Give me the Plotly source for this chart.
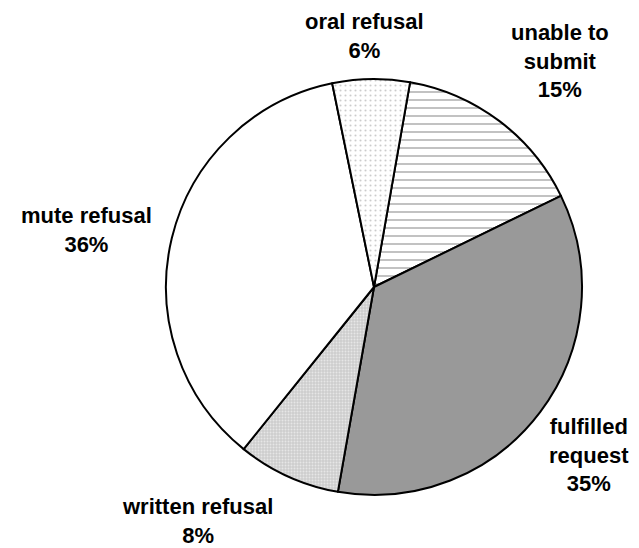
import plotly.graph_objects as go

labels = ["unable to submit", "fulfilled request", "written refusal", "mute refusal", "oral refusal"]
label_lines = ["unable to<br>submit", "fulfilled<br>request", "written refusal", "mute refusal", "oral refusal"]
values = [15, 35, 8, 36, 6]

colors = ["white", "#999999", "#cdcdcd", "white", "white"]
shapes = ["-", "", ".", "", "."]
fg = ["#404040", "#999999", "white", "white", "#999999"]
sizes = [8, 8, 3, 8, 5]
sol = [0.16, 0.1, 0.35, 0.1, 0.14]

W, H = 639, 548
OFF = 8  # page body margin offset

cx, cy, r = 374 - OFF, 287 - OFF, 208

fig = go.Figure(go.Pie(
    labels=labels, values=values, sort=False, direction="clockwise", rotation=10,
    marker=dict(colors=colors, line=dict(color="black", width=2),
                pattern=dict(shape=shapes, fgcolor=fg, bgcolor=colors, size=sizes,
                             solidity=sol, fillmode="overlay")),
    textinfo="none", showlegend=False, hoverinfo="none",
    domain=dict(x=[(cx - r) / W, (cx + r) / W], y=[(H - cy - r) / H, (H - cy + r) / H]),
))

# label block centres (pixels) placed beside each slice
label_px = [(560, 61), (589, 455), (197, 521), (86, 230), (364, 36)]
annotations = []
for txt, v, (px, py) in zip(label_lines, values, label_px):
    annotations.append(dict(
        text=f"{txt}<br>{v}%", x=(px - OFF) / W, y=1 - (py - OFF) / H, xref="paper", yref="paper",
        xanchor="center", yanchor="middle", showarrow=False, align="center",
        font=dict(family="Liberation Sans, Arial", size=22, color="black", weight="bold"),
    ))

fig.update_layout(width=W, height=H, margin=dict(l=0, r=0, t=0, b=0),
                  paper_bgcolor="white", plot_bgcolor="white", annotations=annotations)
fig.write_html("out.html")
